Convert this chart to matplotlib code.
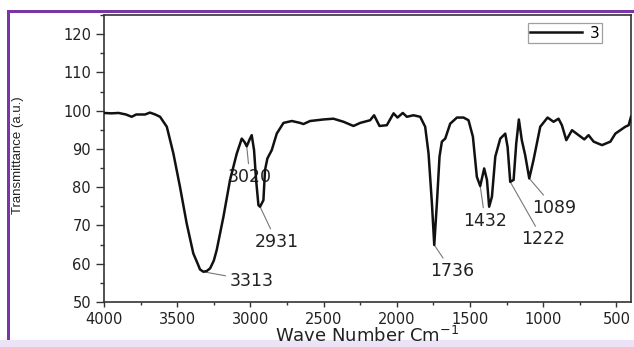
import matplotlib
matplotlib.use("Agg")
import matplotlib.pyplot as plt
from matplotlib.patches import Rectangle
from matplotlib.ticker import MultipleLocator

# FTIR spectrum, sample "3"
wavenumber = [4000, 3950, 3900, 3850, 3811, 3780, 3720, 3686, 3650, 3617,
              3571, 3526, 3481, 3435, 3390, 3360, 3344, 3321, 3298, 3275,
              3250, 3230, 3184, 3139, 3093, 3059, 3040, 3025, 3005, 2991,
              2975, 2961, 2945, 2934, 2911, 2900, 2884, 2854, 2820, 2774,
              2717, 2660, 2638, 2592, 2501, 2433, 2364, 2296, 2250, 2182,
              2155, 2118, 2068, 2022, 1995, 1959, 1931, 1886, 1840, 1806,
              1783, 1760, 1744, 1726, 1708, 1692, 1669, 1635, 1589, 1544,
              1510, 1480, 1453, 1430, 1403, 1384, 1369, 1350, 1327, 1293,
              1259, 1243, 1225, 1202, 1184, 1166, 1146, 1123, 1095, 1066,
              1020, 970, 929, 895, 872, 842, 803, 758, 719, 690,
              655, 598, 541, 507, 473, 439, 416, 400]
transmittance = [99.4, 99.3, 99.4, 99.0, 98.4, 99.0, 99.0, 99.5, 99.0, 98.4,
                 95.8, 88.8, 80.1, 70.5, 62.7, 60.0, 58.5, 57.9, 58.1, 58.8,
                 60.8, 63.6, 72.3, 81.9, 88.8, 92.7, 91.8, 90.7, 92.5, 93.6,
                 89.7, 81.9, 75.3, 74.9, 76.6, 84.5, 87.5, 89.7, 94.0, 96.8,
                 97.3, 96.8, 96.5, 97.3, 97.7, 97.9, 97.1, 96.0, 96.8, 97.5,
                 98.8, 96.0, 96.2, 99.3, 98.2, 99.4, 98.4, 98.8, 98.4, 95.8,
                 88.8, 75.8, 64.9, 75.8, 88.0, 91.9, 92.7, 96.6, 98.2, 98.2,
                 97.5, 93.2, 82.7, 80.3, 84.9, 81.9, 74.9, 77.5, 88.0, 92.7,
                 94.0, 90.5, 81.4, 81.9, 91.4, 97.7, 92.3, 88.4, 82.3, 87.1,
                 95.8, 98.2, 97.1, 97.9, 96.2, 92.3, 94.9, 93.6, 92.5, 93.6,
                 91.9, 91.0, 91.9, 94.0, 94.9, 95.8, 96.2, 98.4]

# peak labels: text, peak (x, y), label position (x, y)
peak_labels = ["3020", "2931", "3313", "1736", "1432", "1222", "1089"]
peak_xy = [(3025, 90.7), (2934, 74.9), (3321, 57.9), (1744, 64.9),
           (1430, 80.3), (1225, 81.4), (1095, 82.3)]
label_xy = [(3004, 82.7), (2820, 65.7), (2991, 55.6), (1624, 58.1),
            (1396, 71.2), (1002, 66.4), (923, 74.6)]

plt.rcParams['font.family'] = ['DejaVu Sans']
txt = '#222222'

fig = plt.figure(figsize=(6.34, 3.47), dpi=100)
W, H = 634, 347
ax = fig.add_axes([104 / W, 1 - 302 / H, (631 - 104) / W, (302 - 15) / H])

ax.plot(wavenumber, transmittance, color='#111111', lw=1.8, label='3', zorder=3)

ax.set_xlim(4000, 400)
ax.set_ylim(50, 125)
ax.xaxis.set_major_locator(MultipleLocator(500))
ax.xaxis.set_minor_locator(MultipleLocator(250))
ax.yaxis.set_major_locator(MultipleLocator(10))
ax.yaxis.set_minor_locator(MultipleLocator(5))
ax.tick_params(axis='x', which='major', length=3.6, width=1, pad=3.4,
               labelsize=10.5, colors='#333333', labelcolor=txt)
ax.tick_params(axis='x', which='minor', length=1.8, width=1, colors='#333333')
ax.tick_params(axis='y', which='major', length=5.8, width=1, pad=3.5,
               labelsize=10.5, colors='#333333', labelcolor=txt)
ax.tick_params(axis='y', which='minor', length=3.2, width=1, colors='#333333')
for s in ax.spines.values():
    s.set_color('#333333')
    s.set_linewidth(1.2)

fig.text(367 / W, 1 - 336 / H, 'Wave Number Cm$^{-1}$', fontsize=13,
         color=txt, ha='center', va='center')
fig.text(18 / W, 1 - 155 / H, 'Transmittance (a.u.)', family='Liberation Sans',
         fontsize=9.5, color=txt, rotation=90, ha='center', va='center')

for lab, pxy, txy in zip(peak_labels, peak_xy, label_xy):
    ax.annotate(lab, xy=pxy, xytext=txy, ha='center', va='center',
                fontsize=12.5, color=txt, zorder=2,
                arrowprops=dict(arrowstyle='-', color='#777777', lw=0.8,
                                shrinkA=1, shrinkB=0))

leg = ax.legend(loc='upper right', bbox_to_anchor=(601.7 / W, 1 - 23.3 / H),
                bbox_transform=fig.transFigure, fontsize=11, frameon=True,
                fancybox=False, handlelength=3.4, handletextpad=0.5,
                borderpad=0.15, borderaxespad=0)
leg.get_frame().set_edgecolor('#888888')
leg.get_frame().set_linewidth(0.9)

# purple frame around the picture
fig.patches.append(Rectangle((7 / W, 7 / H), 3 / W, 1 - 17 / H,
                             transform=fig.transFigure, color='#7a35a8',
                             lw=0, zorder=-1))
fig.patches.append(Rectangle((7 / W, 1 - 13 / H), 1, 3 / H,
                             transform=fig.transFigure, color='#7a35a8',
                             lw=0, zorder=-1))
fig.patches.append(Rectangle((0, 0), 1, 7 / H, transform=fig.transFigure,
                             color='#ece3f6', lw=0, zorder=-1))

fig.savefig('out.png', dpi=100)
